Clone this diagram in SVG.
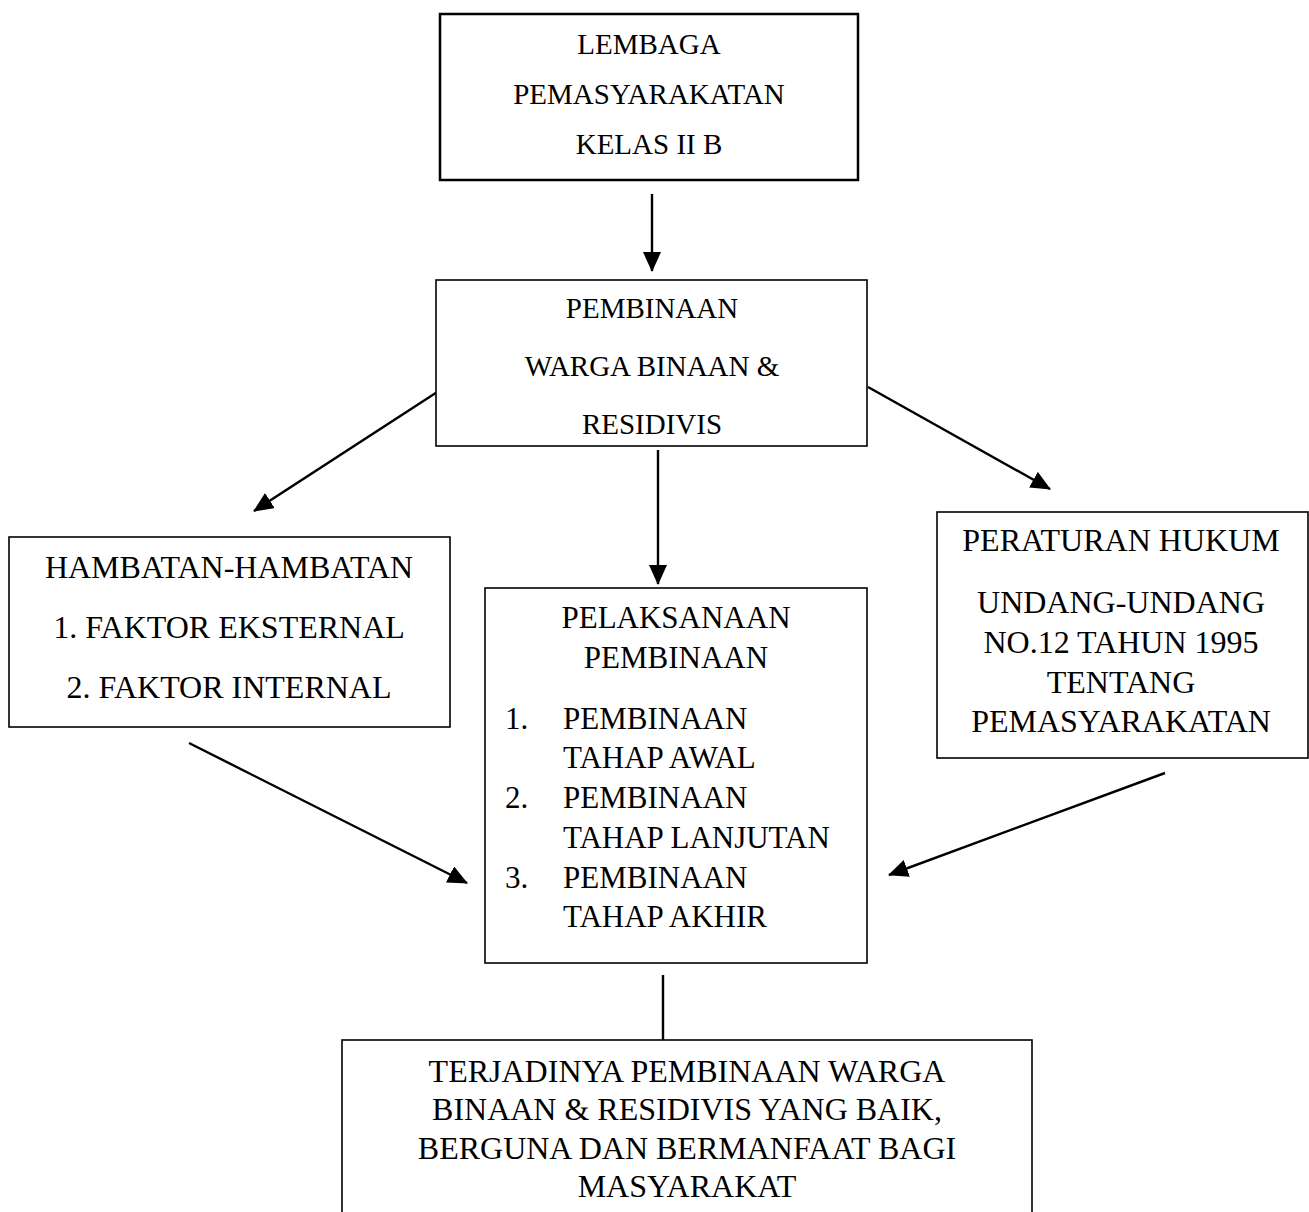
<svg xmlns="http://www.w3.org/2000/svg" width="1309" height="1212" viewBox="0 0 1309 1212">
<style>
.box{fill:#fff;stroke:#000;stroke-width:1.6}
.bold{stroke-width:2.5}
.t{font-family:"Liberation Serif","Times New Roman",serif;fill:#000;text-anchor:middle}
.s29{font-size:29px}
.s31{font-size:31px}
.s32{font-size:32px}
.l{text-anchor:start}
.c{stroke:#000;stroke-width:2.4;fill:none}
</style>
<defs>
<marker id="ah" viewBox="0 0 10 9" refX="9.5" refY="4.5" markerWidth="20" markerHeight="18" markerUnits="userSpaceOnUse" orient="auto">
<path d="M0,0 L10,4.5 L0,9 z" fill="#000"/>
</marker>
</defs>
<rect width="1309" height="1212" fill="#fff"/>
<g id="connectors">
<line class="c" x1="652" y1="194" x2="652" y2="271" marker-end="url(#ah)"/>
<line class="c" x1="448" y1="385" x2="254" y2="511" marker-end="url(#ah)"/>
<line class="c" x1="868" y1="387" x2="1050" y2="489" marker-end="url(#ah)"/>
<line class="c" x1="658" y1="450" x2="658" y2="584" marker-end="url(#ah)"/>
<line class="c" x1="189" y1="743" x2="467" y2="883" marker-end="url(#ah)"/>
<line class="c" x1="1165" y1="773" x2="889" y2="875" marker-end="url(#ah)"/>
<line class="c" x1="663" y1="975" x2="663" y2="1040"/>
</g>
<g id="lembaga">
<rect class="box bold" x="440" y="14" width="418" height="166"/>
<text class="t s29" x="649" y="54">LEMBAGA</text>
<text class="t s29" x="649" y="104">PEMASYARAKATAN</text>
<text class="t s29" x="649" y="154">KELAS II B</text>
</g>
<g id="pembinaan">
<rect class="box" x="436" y="280" width="431" height="166"/>
<text class="t s29" x="652" y="318">PEMBINAAN</text>
<text class="t s29" x="652" y="376">WARGA BINAAN &amp;</text>
<text class="t s29" x="652" y="434">RESIDIVIS</text>
</g>
<g id="hambatan">
<rect class="box" x="9" y="537" width="441" height="190"/>
<text class="t s32" x="229" y="578">HAMBATAN-HAMBATAN</text>
<text class="t s32" x="229" y="638">1. FAKTOR EKSTERNAL</text>
<text class="t s32" x="229" y="698">2. FAKTOR INTERNAL</text>
</g>
<g id="pelaksanaan">
<rect class="box" x="485" y="588" width="382" height="375"/>
<text class="t s31" x="676" y="628">PELAKSANAAN</text>
<text class="t s31" x="676" y="668">PEMBINAAN</text>
<text class="t s31 l" x="505" y="729">1.</text>
<text class="t s31 l" x="563" y="729">PEMBINAAN</text>
<text class="t s31 l" x="563" y="768">TAHAP AWAL</text>
<text class="t s31 l" x="505" y="808">2.</text>
<text class="t s31 l" x="563" y="808">PEMBINAAN</text>
<text class="t s31 l" x="563" y="848">TAHAP LANJUTAN</text>
<text class="t s31 l" x="505" y="888">3.</text>
<text class="t s31 l" x="563" y="888">PEMBINAAN</text>
<text class="t s31 l" x="563" y="927">TAHAP AKHIR</text>
</g>
<g id="peraturan">
<rect class="box" x="937" y="512" width="371" height="246"/>
<text class="t s32" x="1121" y="551">PERATURAN HUKUM</text>
<text class="t s32" x="1121" y="613">UNDANG-UNDANG</text>
<text class="t s32" x="1121" y="653">NO.12 TAHUN 1995</text>
<text class="t s32" x="1121" y="693">TENTANG</text>
<text class="t s32" x="1121" y="732">PEMASYARAKATAN</text>
</g>
<g id="terjadinya">
<rect class="box" x="342" y="1040" width="690" height="200"/>
<text class="t s32" x="687" y="1082">TERJADINYA PEMBINAAN WARGA</text>
<text class="t s32" x="687" y="1120">BINAAN &amp; RESIDIVIS YANG BAIK,</text>
<text class="t s32" x="687" y="1159">BERGUNA DAN BERMANFAAT BAGI</text>
<text class="t s32" x="687" y="1197">MASYARAKAT</text>
</g>
</svg>
